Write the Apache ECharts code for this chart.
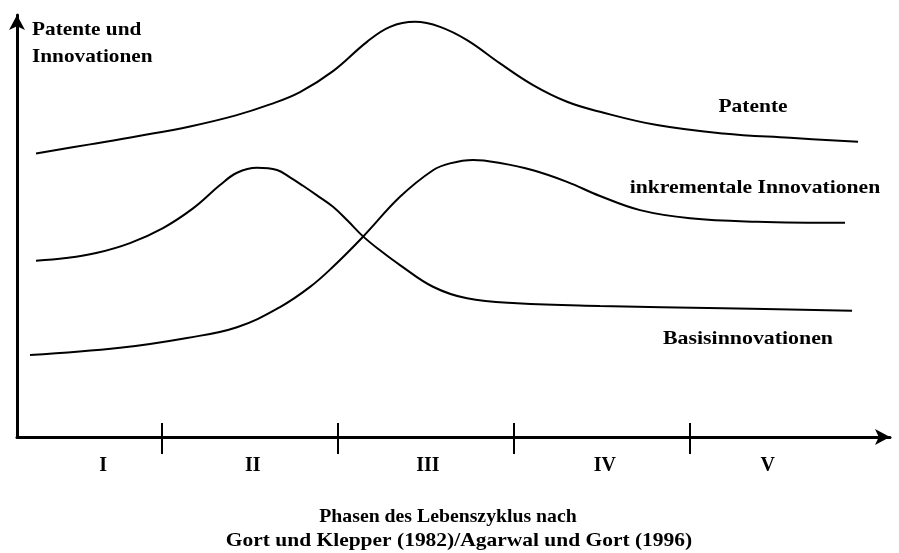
<!DOCTYPE html>
<html>
<head>
<meta charset="utf-8">
<script src="https://cdn.jsdelivr.net/npm/echarts@6/dist/echarts.min.js"></script>
<style>
  html, body { margin: 0; padding: 0; background: #fff; }
  #chart { width: 899px; height: 553px; }
</style>
</head>
<body>
<div id="chart"></div>
<script>
// x: 0 = y axis, each phase is 20 units wide; y: 0 = x axis
const phaseBounds = [16.5, 36.5, 56.5, 76.5];
const phaseCenters = [9.8, 26.8, 46.7, 66.8, 85.3];
const phaseNames = ['I', 'II', 'III', 'IV', 'V'];

const patenteX = [2.16, 8.3, 13.98, 19.66, 24.77, 28.75, 32.16, 35.91, 39.77, 42.39, 45.23, 48.07, 51.14, 54.89, 58.64, 62.5, 66.25, 72.73, 80.23, 87.84, 95.57];
const patenteY = [66.13, 68.23, 70.23, 72.42, 74.94, 77.55, 80.42, 85.31, 92.14, 95.64, 96.81, 95.64, 92.54, 87.11, 82.05, 78.16, 75.83, 72.73, 70.79, 69.77, 68.83];

const basisX = [2.16, 5.57, 8.98, 12.84, 16.59, 20.0, 23.07, 25.0, 27.27, 29.55, 31.02, 32.5, 34.09, 35.91, 37.61, 39.32, 41.36, 43.52, 47.27, 51.14, 56.82, 66.25, 80.23, 94.89];
const basisY = [41.1, 41.72, 42.89, 45.22, 48.72, 53.31, 58.74, 61.61, 62.77, 62.24, 60.54, 58.58, 56.34, 53.68, 50.35, 46.78, 43.36, 40.09, 35.03, 32.33, 31.17, 30.54, 30.0, 29.44];

const inkrX = [1.48, 11.7, 19.32, 25.0, 29.89, 33.3, 35.91, 39.32, 43.52, 47.27, 49.2, 51.82, 54.89, 58.64, 62.5, 66.25, 70.8, 76.48, 84.09, 94.09];
const inkrY = [19.1, 20.8, 23.1, 25.6, 30.3, 35.0, 39.7, 46.7, 56.0, 62.2, 63.8, 64.6, 63.9, 62.2, 59.5, 56.2, 52.9, 51.0, 50.2, 49.95];

const font = '"Liberation Serif", "Times New Roman", serif';

const zip = (xs, ys) => xs.map((x, i) => [x, ys[i]]);

const curve = (name, xs, ys) => ({
  name,
  type: 'line',
  data: zip(xs, ys),
  smooth: 0.4,
  showSymbol: false,
  silent: true,
  lineStyle: { color: '#000', width: 2 }
});

// bold serif text, stretched a little like the original lettering
const label = (text, x, y, align, sx) => ({
  type: 'text',
  x, y,
  scaleX: sx || 1.13,
  style: {
    text, fill: '#000', font: 'bold 19px ' + font,
    align: align || 'center', verticalAlign: 'middle'
  }
});

const chart = echarts.init(document.getElementById('chart'));

chart.setOption({
  animation: false,
  backgroundColor: '#fff',
  grid: { left: 17, right: 9, top: 15, bottom: 116 },
  xAxis: [
    {
      type: 'value', min: 0, max: 99.2,
      splitLine: { show: false },
      axisLine: {
        lineStyle: { color: '#000', width: 3 },
        symbol: ['none', 'arrow'], symbolSize: [12, 15]
      },
      axisTick: { show: true, customValues: phaseBounds, length: 17, lineStyle: { color: '#000', width: 2 } },
      axisLabel: {
        customValues: phaseCenters,
        margin: 19,
        color: '#000', fontFamily: font, fontWeight: 'bold', fontSize: 20,
        formatter: v => {
          let best = 0;
          phaseCenters.forEach((c, i) => { if (Math.abs(c - v) < Math.abs(phaseCenters[best] - v)) best = i; });
          return phaseNames[best];
        }
      }
    },
    {
      type: 'value', min: 0, max: 99.2, position: 'bottom',
      splitLine: { show: false },
      axisLine: { show: false },
      axisTick: { show: true, inside: true, customValues: phaseBounds, length: 14, lineStyle: { color: '#000', width: 2 } },
      axisLabel: { show: false }
    }
  ],
  yAxis: {
    type: 'value', min: 0, max: 98.4,
    splitLine: { show: false },
    axisTick: { show: false },
    axisLabel: { show: false },
    axisLine: {
      lineStyle: { color: '#000', width: 3 },
      symbol: ['none', 'arrow'], symbolSize: [12, 15]
    }
  },
  graphic: [
    label('Patente und', 32, 30, 'left', 1.12),
    label('Innovationen', 32, 57, 'left', 1.12),
    label('Patente', 753, 107),
    label('inkrementale Innovationen', 755, 188, 'center', 1.14),
    label('Basisinnovationen', 748, 339, 'center', 1.15),
    label('Phasen des Lebenszyklus nach', 448, 517, 'center', 1.04),
    label('Gort und Klepper (1982)/Agarwal und Gort (1996)', 459, 541)
  ],
  series: [
    curve('Patente', patenteX, patenteY),
    curve('Basisinnovationen', basisX, basisY),
    curve('inkrementale Innovationen', inkrX, inkrY)
  ]
});

window.addEventListener('resize', () => chart.resize());
</script>
</body>
</html>
